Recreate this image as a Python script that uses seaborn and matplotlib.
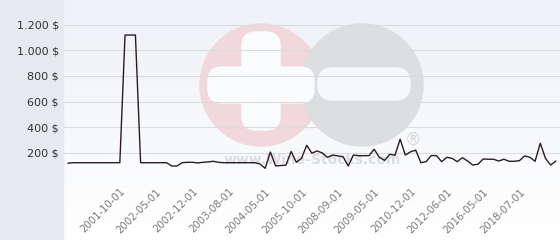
import numpy as np
import matplotlib
matplotlib.use("Agg")
import matplotlib.pyplot as plt
import seaborn as sns
from matplotlib.patches import Circle, Rectangle, FancyBboxPatch

# ---- data ----
prices = [118, 122, 122, 122, 122, 122, 122, 122, 122, 122, 122,
          1120, 1120, 1120,
          122, 122, 122, 122, 122, 122, 96, 96, 122,
          125, 125, 120, 125, 128, 133, 125,
          122, 122, 122, 122, 122, 122, 122,
          112, 78, 205, 97, 100, 102, 210, 125, 156, 258,
          196, 214, 198, 164, 182, 175, 169, 96, 182, 177,
          177, 177, 227, 164, 140, 188, 180, 305, 182, 207,
          220, 122, 130, 178, 177, 130, 164, 156, 130, 161,
          135, 104, 110, 151, 149, 149, 135, 149, 133, 133,
          138, 175, 164, 133, 274, 156, 104, 135]
tick_positions = [10, 17, 24, 31, 38, 45, 52, 59, 66, 73, 80, 87]
tick_labels = ["2001-10-01", "2002-05-01", "2002-12-01", "2003-08-01",
               "2004-05-01", "2005-10-01", "2008-09-01", "2009-05-01",
               "2010-12-01", "2012-06-01", "2016-05-01", "2018-07-01"]
y_ticks = [0, 200, 400, 600, 800, 1000, 1200]
y_labels = ["", "200 $", "400 $", "600 $", "800 $", "1.000 $", "1.200 $"]

sns.set_theme(style="white")
plt.rcParams['font.family'] = ['DejaVu Sans']

fig = plt.figure(figsize=(5.6, 2.4), dpi=100)

# background (pixel coordinates)
bg = fig.add_axes([0, 0, 1, 1], zorder=0)
g = np.linspace(0, 1, 240)[:, None, None]
top = np.array([238, 241, 246]) / 255.0
bot = np.array([255, 255, 255]) / 255.0
img = top * (1 - g) + bot * g
img = np.repeat(img, 2, axis=1)
bg.imshow(img, extent=[63, 560, 240, 0], aspect='auto', zorder=0)
bg.add_patch(Rectangle((0, 0), 63, 240, color='#e6eaee', zorder=1))

# watermark
bg.add_patch(Circle((261, 85), 61, color='#f0d8dd', zorder=2))
bg.add_patch(Circle((362, 85), 61, color='#dcdee0', zorder=3))
bg.add_patch(FancyBboxPatch((242, 32), 38, 98, boxstyle="round,pad=0,rounding_size=14",
                            color='#fafbfd', zorder=4))
bg.add_patch(FancyBboxPatch((208, 67), 106, 36, boxstyle="round,pad=0,rounding_size=14",
                            color='#fafbfd', zorder=4))
bg.add_patch(FancyBboxPatch((318, 68), 92, 32, boxstyle="round,pad=0,rounding_size=15",
                            color='#f7f8fa', zorder=4))
bg.text(312, 160, "www.Wine-Stocks.com", ha='center', va='center', fontsize=10,
        fontweight='bold', color='#dcdddf', zorder=5)
bg.text(413, 140, "®", ha='center', va='center', fontsize=12, color='#d6d7da', zorder=5)
bg.set_xlim(0, 560)
bg.set_ylim(240, 0)
bg.axis('off')

# main chart
ax = fig.add_axes([63 / 560, 1 - 178.3 / 240, 497 / 560, (178.3 - 12) / 240], zorder=1)
ax.patch.set_alpha(0)
idx = np.arange(len(prices))
sns.lineplot(x=idx, y=prices, ax=ax, color='#2b1b24', linewidth=1.0)
ax.set_xlim(-0.95, 94.8)
ax.set_ylim(0, 1300)
ax.set_yticks(y_ticks)
ax.set_yticklabels(y_labels, fontsize=8, color='#333333')
ax.yaxis.grid(True, color='#dcdcdc', linewidth=0.8)
ax.xaxis.grid(False)
ax.set_axisbelow(True)
ax.set_xticks(tick_positions)
ax.set_xticklabels(tick_labels, rotation=45, ha='right', rotation_mode='anchor',
                   fontsize=7.3, color='#7a7a7a')
ax.tick_params(axis='y', length=0, pad=3)
ax.tick_params(axis='x', length=0, pad=6)
for s in ax.spines.values():
    s.set_visible(False)
ax.set_xlabel("")
ax.set_ylabel("")

fig.savefig("out.png", dpi=100)
